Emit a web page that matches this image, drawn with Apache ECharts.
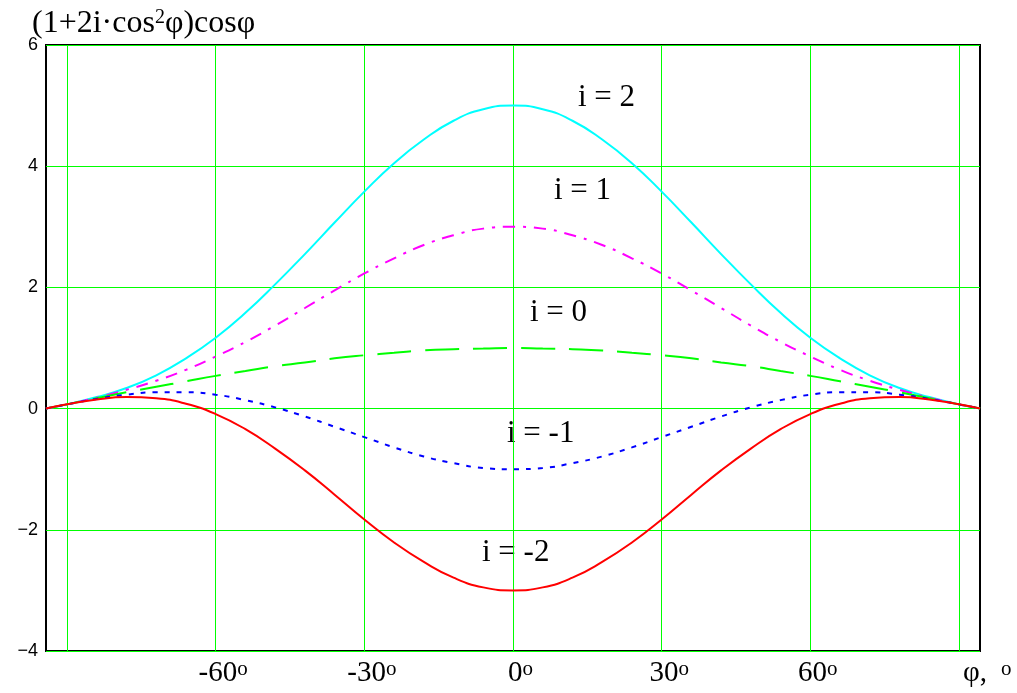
<!DOCTYPE html>
<html>
<head>
<meta charset="utf-8">
<script src="https://cdn.jsdelivr.net/npm/echarts@6/dist/echarts.min.js"></script>
<style>
  html, body { margin: 0; padding: 0; background: #fff; }
  #chart { width: 1017px; height: 693px; }
</style>
</head>
<body>
<div id="chart"></div>
<script>
// phi in radians, -pi/2 .. pi/2
var phi = [-1.571, -1.5, -1.4, -1.3, -1.2, -1.1, -1.0, -0.9, -0.8, -0.7, -0.6, -0.5, -0.4, -0.3, -0.2, -0.1,
  0, 0.1, 0.2, 0.3, 0.4, 0.5, 0.6, 0.7, 0.8, 0.9, 1.0, 1.1, 1.2, 1.3, 1.4, 1.5, 1.571];

var iPlus2 = [0, 0.07, 0.19, 0.34, 0.55, 0.83, 1.17, 1.58, 2.05, 2.55, 3.07, 3.58, 4.05, 4.44, 4.75, 4.94,
  5.00, 4.94, 4.75, 4.44, 4.05, 3.58, 3.07, 2.55, 2.05, 1.58, 1.17, 0.83, 0.55, 0.34, 0.19, 0.07, 0];
var iPlus1 = [0, 0.07, 0.18, 0.31, 0.46, 0.64, 0.86, 1.10, 1.37, 1.66, 1.95, 2.23, 2.48, 2.70, 2.86, 2.97,
  3.00, 2.97, 2.86, 2.70, 2.48, 2.23, 1.95, 1.66, 1.37, 1.10, 0.86, 0.64, 0.46, 0.31, 0.18, 0.07, 0];
var iZero = [0, 0.07, 0.17, 0.27, 0.36, 0.45, 0.54, 0.62, 0.70, 0.76, 0.83, 0.88, 0.92, 0.96, 0.98, 0.99,
  1.00, 0.99, 0.98, 0.96, 0.92, 0.88, 0.83, 0.76, 0.70, 0.62, 0.54, 0.45, 0.36, 0.27, 0.17, 0.07, 0];
var iMinus1 = [0, 0.07, 0.16, 0.23, 0.27, 0.27, 0.23, 0.14, 0.02, -0.13, -0.30, -0.47, -0.64, -0.79, -0.90, -0.98,
  -1.00, -0.98, -0.90, -0.79, -0.64, -0.47, -0.30, -0.13, 0.02, 0.14, 0.23, 0.27, 0.27, 0.23, 0.16, 0.07, 0];
var iMinus2 = [0, 0.07, 0.15, 0.19, 0.17, 0.08, -0.09, -0.34, -0.66, -1.02, -1.42, -1.83, -2.21, -2.53, -2.79, -2.95,
  -3.00, -2.95, -2.79, -2.53, -2.21, -1.83, -1.42, -1.02, -0.66, -0.34, -0.09, 0.08, 0.17, 0.19, 0.15, 0.07, 0];

var xTickVals = [-1, -0.5, 0, 0.5, 1];
var xTickText = ['-60', '-30', '0', '30', '60'];
var xGridVals = [-1.5, -1, -0.5, 0, 0.5, 1, 1.5];

var GREEN = '#00ff00';
var serif = '"Liberation Serif", "Times New Roman", serif';

function pairs(ys) {
  return phi.map(function (x, k) { return [x, ys[k]]; });
}

function curve(name, ys, color, dash) {
  return {
    name: name,
    type: 'line',
    data: pairs(ys),
    showSymbol: false,
    smooth: true,
    z: 3,
    lineStyle: { color: color, width: 2, type: dash }
  };
}

var chart = echarts.init(document.getElementById('chart'));
chart.setOption({
  animation: false,
  backgroundColor: '#fff',
  grid: {
    left: 46, right: 37, top: 45, bottom: 42,
    show: true, borderColor: '#000', borderWidth: 2
  },
  xAxis: {
    type: 'value',
    min: -1.5708, max: 1.5708,
    axisLine: { show: false },
    axisTick: { show: false, customValues: xGridVals },
    splitLine: { show: true, lineStyle: { color: GREEN, width: 1, opacity: 1 } },
    axisLabel: {
      customValues: xTickVals,
      margin: 8,
      padding: [0, 0, 0, 15],
      formatter: function (v) {
        var k = xTickVals.indexOf(v);
        return '{n|' + xTickText[k] + '}{s|o}';
      },
      rich: {
        n: { fontFamily: serif, fontSize: 29, color: '#000' },
        s: { fontFamily: serif, fontSize: 21, lineHeight: 8, color: '#000', verticalAlign: 'top' }
      }
    }
  },
  yAxis: {
    type: 'value',
    min: -4, max: 6, interval: 2,
    axisLine: { show: false },
    axisTick: { show: false },
    splitLine: { show: true, lineStyle: { color: GREEN, width: 1 } },
    axisLabel: {
      margin: 8,
      padding: [9, 0, 0, 0],
      fontFamily: '"Liberation Sans", Arial, sans-serif',
      fontSize: 18,
      color: '#000',
      formatter: function (v) { return String(v).replace('-', '\u2212'); }
    }
  },
  series: [
    curve('i = 2', iPlus2, '#00ffff', 'solid'),
    curve('i = 1', iPlus1, '#ff00ff', [12, 8, 3, 8]),
    curve('i = 0', iZero, '#00ff00', [34, 14]),
    curve('i = -1', iMinus1, '#0000ff', [5, 7]),
    curve('i = -2', iMinus2, '#ff0000', 'solid')
  ],
  graphic: [
    {
      type: 'text', x: 32, y: 8,
      style: {
        text: '{a|(1+2i·cos}{s|2}{a|φ)cosφ}',
        rich: {
          a: { fontFamily: serif, fontSize: 32, fill: '#000' },
          s: { fontFamily: serif, fontSize: 20, lineHeight: 14, fill: '#000', verticalAlign: 'top' }
        }
      }
    },
    { type: 'text', x: 578, y: 98, style: { text: 'i = 2', font: '31px ' + serif, fill: '#000', verticalAlign: 'middle' } },
    { type: 'text', x: 554, y: 191, style: { text: 'i = 1', font: '31px ' + serif, fill: '#000', verticalAlign: 'middle' } },
    { type: 'text', x: 530, y: 313, style: { text: 'i = 0', font: '31px ' + serif, fill: '#000', verticalAlign: 'middle' } },
    { type: 'text', x: 507, y: 434, style: { text: 'i = -1', font: '31px ' + serif, fill: '#000', verticalAlign: 'middle' } },
    { type: 'text', x: 482, y: 553, style: { text: 'i = -2', font: '31px ' + serif, fill: '#000', verticalAlign: 'middle' } },
    {
      type: 'text', x: 963, y: 659,
      style: {
        text: '{n|φ,}{s|o}',
        rich: {
          n: { fontFamily: serif, fontSize: 29, fill: '#000' },
          s: { fontFamily: serif, fontSize: 21, lineHeight: 8, fill: '#000', verticalAlign: 'top', padding: [0, 0, 0, 14] }
        }
      }
    }
  ]
});
</script>
</body>
</html>
